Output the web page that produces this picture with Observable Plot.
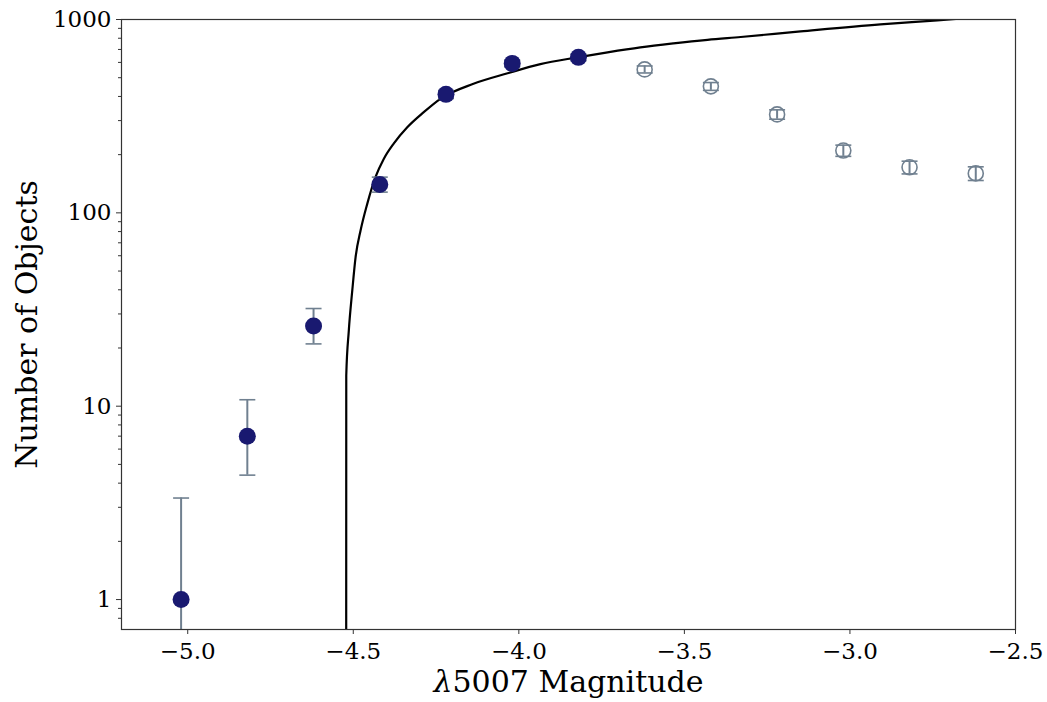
<!DOCTYPE html>
<html><head><meta charset="utf-8">
<script src="https://cdn.jsdelivr.net/npm/d3@7"></script>
<script src="https://cdn.jsdelivr.net/npm/@observablehq/plot@0.6"></script>
<style>body{margin:0;background:#fff} svg{display:block}</style>
</head><body><div id="chart"></div>
<script>
// Binned luminosity function
const magnitude = [-5.02, -4.82, -4.62, -4.42, -4.22, -4.02, -3.82, -3.62, -3.42, -3.22, -3.02, -2.82, -2.62];
const counts    = [1, 7, 26, 140, 410, 593, 637, 552, 451, 323, 210, 172, 160];
const errLow    = [0.05, 4.4, 21, 128, 390, 569, 612, 529, 430, 305, 196, 159, 147];
const errHigh   = [3.35, 10.8, 32, 153, 430, 617, 662, 575, 472, 341, 224, 185, 173];
const usedInFit = [true, true, true, true, true, true, true, false, false, false, false, false, false];

// Fitted curve
const curveMag = [-4.5214, -4.5212, -4.5135, -4.503, -4.493, -4.478, -4.458, -4.433, -4.408, -4.378, -4.337, -4.287, -4.237, -4.137, -4.034, -3.935, -3.823, -3.732, -3.633, -3.533, -3.430, -3.330, -3.149, -2.908, -2.736, -2.500];
const curveN   = [0.5, 14.4, 24.6, 39.7, 59, 81, 111, 153, 190, 228, 277, 332, 389, 465, 527, 588, 637, 676, 717, 752, 785, 812, 868, 944, 990, 1065];

const yMajor = [1, 10, 100, 1000];
const yMinor = [0.8, 0.9, 2, 3, 4, 5, 6, 7, 8, 9, 20, 30, 40, 50, 60, 70, 80, 90, 200, 300, 400, 500, 600, 700, 800, 900];
const xTicks = [-5.0, -4.5, -4.0, -3.5, -3.0, -2.5];

const pts = magnitude.map((m, i) => ({m, n: counts[i], lo: errLow[i], hi: errHigh[i], fit: usedInFit[i]}));
const curve = curveMag.map((m, i) => ({m, n: curveN[i]}));

const capSymbol = {draw(ctx, size) { const w = Math.sqrt(size / Math.PI); ctx.moveTo(-w, 0); ctx.lineTo(w, 0); }};

const barColor = "#708090";
const dotColor = "#191970";

const chart = Plot.plot({
  width: 1047,
  height: 702,
  marginLeft: 121,
  marginRight: 32,
  marginTop: 19,
  marginBottom: 73,
  style: {fontFamily: "'DejaVu Serif', serif", fontSize: "23px", color: "#000", background: "#fff"},
  x: {domain: [-5.2, -2.5]},
  y: {type: "log", domain: [0.7, 1000]},
  marks: [
    Plot.line(curve, {x: "m", y: "n", stroke: "black", strokeWidth: 2.2, curve: "monotone-x", clip: true}),
    Plot.ruleX(pts, {x: "m", y1: "lo", y2: "hi", stroke: barColor, strokeWidth: 2, clip: true}),
    Plot.dot(pts, {x: "m", y: "lo", symbol: capSymbol, r: 8, stroke: barColor, strokeWidth: 1.6, clip: true}),
    Plot.dot(pts, {x: "m", y: "hi", symbol: capSymbol, r: 8, stroke: barColor, strokeWidth: 1.6, clip: true}),
    Plot.dot(pts.filter(d => d.fit), {x: "m", y: "n", r: 8.5, fill: dotColor, stroke: "none"}),
    Plot.dot(pts.filter(d => !d.fit), {x: "m", y: "n", r: 7.5, fill: "none", stroke: barColor, strokeWidth: 1.6}),
    Plot.axisY(yMinor, {tickSize: 3, tickFormat: () => "", stroke: "#333", label: null}),
    Plot.axisY(yMajor, {tickSize: 5, tickPadding: 5, tickFormat: d => String(d), stroke: "#333", label: null}),
    Plot.axisX(xTicks, {tickSize: 5, tickPadding: 8, tickFormat: d3.format(".1f"), stroke: "#333", label: null}),
    Plot.frame({stroke: "#333", strokeWidth: 1.2}),
    Plot.text(["Number of Objects"], {frameAnchor: "left", textAnchor: "middle", dx: -94, rotate: -90, fontSize: 30, fill: "black"}),
    Plot.text(["λ5007 Magnitude"], {frameAnchor: "bottom", textAnchor: "middle", dy: 62, fontSize: 30, fill: "black"})
  ]
});

// italicise the lambda in the x-axis label (matplotlib math text style)
chart.querySelectorAll("text").forEach(t => {
  if (t.textContent === "λ5007 Magnitude") {
    t.textContent = "";
    const a = document.createElementNS("http://www.w3.org/2000/svg", "tspan");
    a.setAttribute("font-style", "italic");
    a.textContent = "λ";
    const b = document.createElementNS("http://www.w3.org/2000/svg", "tspan");
    b.textContent = "5007 Magnitude";
    t.appendChild(a); t.appendChild(b);
  }
});

document.getElementById("chart").appendChild(chart);
</script>
</body></html>
